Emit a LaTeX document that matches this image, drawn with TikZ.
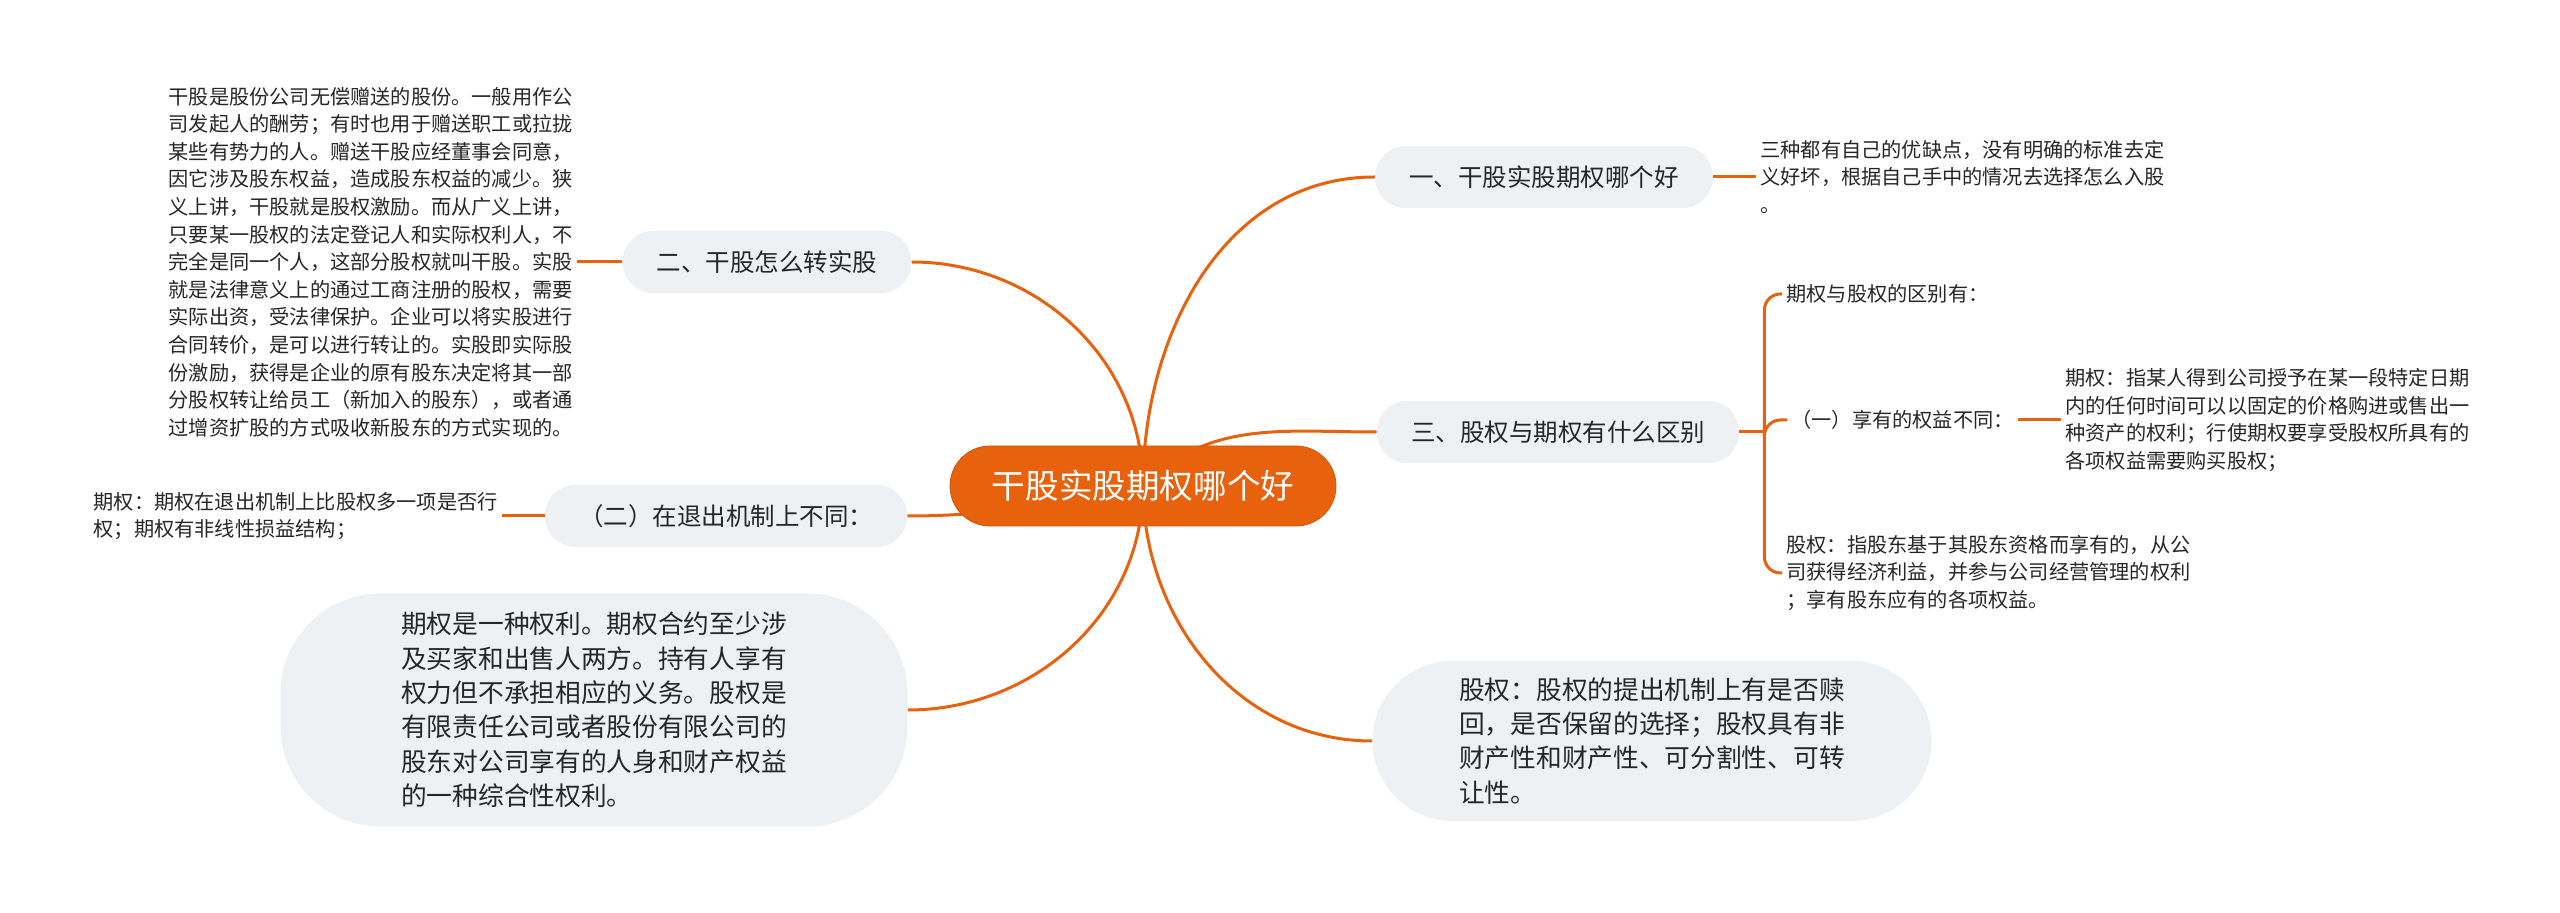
\documentclass[tikz,border=0pt]{standalone}
\usepackage{fontspec}
\newfontfamily\cjk{Noto Sans CJK SC}
\usetikzlibrary{positioning}
\definecolor{branch}{HTML}{E8620E}
\definecolor{rootedge}{HTML}{D2560A}
\definecolor{pale}{HTML}{EEF1F4}
\definecolor{ink}{HTML}{262626}
\pgfdeclarelayer{bg}
\pgfsetlayers{bg,main}
\tikzstyle{every node}=[font=\cjk, text=ink]
\tikzstyle{root}=[draw=rootedge, fill=branch, text=white, rounded corners=20pt, minimum width=193pt, minimum height=40pt, font=\cjk\fontsize{16.8}{20}\selectfont]
\tikzstyle{topic}=[fill=pale, rounded corners=15pt, minimum height=31pt, inner xsep=17pt, font=\cjk\fontsize{12.25}{15}\selectfont]
\tikzstyle{bubble}=[fill=pale, align=left, inner sep=0pt, font=\cjk\fontsize{12.85}{17.15}\selectfont]
\tikzstyle{leaf}=[align=left, inner sep=2pt, font=\cjk\fontsize{10.1}{13.8}\selectfont]
\tikzstyle{link}=[draw=branch, line width=1.5pt]

\begin{document}
\begin{tikzpicture}[x=0.5pt, y=0.5pt]
    \useasboundingbox (0,0) rectangle (2560,-913);
    \node[root] (root) at (1143,-486) {干股实股期权哪个好};
    \node[topic] (b1) at (1544,-177) {一、干股实股期权哪个好};
    \node[topic] (b2) at (767,-262) {二、干股怎么转实股};
    \node[topic] (b3) at (1558,-432) {三、股权与期权有什么区别};
    \node[topic] (b4) at (726,-516) {（二）在退出机制上不同：};
    \node[bubble, minimum width=313.5pt, minimum height=116.5pt, rounded corners=50pt] (q1) at (594,-710) {期权是一种权利。期权合约至少涉\\及买家和出售人两方。持有人享有\\权力但不承担相应的义务。股权是\\有限责任公司或者股份有限公司的\\股东对公司享有的人身和财产权益\\的一种综合性权利。};
    \node[bubble, minimum width=279.5pt, minimum height=80pt, rounded corners=40pt] (g1) at (1652,-741) {股权：股权的提出机制上有是否赎\\回，是否保留的选择；股权具有非\\财产性和财产性、可分割性、可转\\让性。};
    \node[leaf, anchor=west] (t1) at (1756,-177) {三种都有自己的优缺点，没有明确的标准去定\\义好坏，根据自己手中的情况去选择怎么入股\\。};
    \node[leaf, anchor=east] (t2) at (577,-262) {干股是股份公司无偿赠送的股份。一般用作公\\司发起人的酬劳；有时也用于赠送职工或拉拢\\某些有势力的人。赠送干股应经董事会同意，\\因它涉及股东权益，造成股东权益的减少。狭\\义上讲，干股就是股权激励。而从广义上讲，\\只要某一股权的法定登记人和实际权利人，不\\完全是同一个人，这部分股权就叫干股。实股\\就是法律意义上的通过工商注册的股权，需要\\实际出资，受法律保护。企业可以将实股进行\\合同转价，是可以进行转让的。实股即实际股\\份激励，获得是企业的原有股东决定将其一部\\分股权转让给员工（新加入的股东），或者通\\过增资扩股的方式吸收新股东的方式实现的。};
    \node[leaf, anchor=east] (t3) at (502,-516) {期权：期权在退出机制上比股权多一项是否行\\权；期权有非线性损益结构；};
    \node[leaf, anchor=west] (c1) at (1782,-294) {期权与股权的区别有：};
    \node[leaf, anchor=west] (c2) at (1787,-420) {（一）享有的权益不同：};
    \node[leaf, anchor=west] (c3) at (1782,-573) {股权：指股东基于其股东资格而享有的，从公\\司获得经济利益，并参与公司经营管理的权利\\；享有股东应有的各项权益。};
    \node[leaf, anchor=west] (d1) at (2061,-420) {期权：指某人得到公司授予在某一段特定日期\\内的任何时间可以以固定的价格购进或售出一\\种资产的权利；行使期权要享受股权所具有的\\各项权益需要购买股权；};
    % branches from the centre
    \begin{pgfonlayer}{bg}
    \draw[link] (root.center) to[out=90, in=180] (b1.west);
    \draw[link] (root.center) to[out=90, in=0] (b2.east);
    \draw[link] (root.center) to[out=45, in=180] (b3.west);
    \draw[link] (root.center) to[out=190, in=0] (b4.east);
    \draw[link] (root.center) to[out=-90, in=0] (q1.east);
    \draw[link] (root.center) to[out=-90, in=180] (g1.west);
    \end{pgfonlayer}
    \draw[link] (b1.east) -- (t1.west);
    \draw[link] (b2.west) -- (t2.east);
    \draw[link] (b4.west) -- (t3.east);
    \draw[link] (b3.east) -- ++(25,0) coordinate (j3);
    \draw[link, rounded corners=8pt] (j3) |- (c1.west);
    \draw[link, rounded corners=8pt] (j3) |- (c2.west);
    \draw[link, rounded corners=8pt] (j3) |- (c3.west);
    \draw[link] (c2.east) -- (d1.west);
\end{tikzpicture}
\end{document}
